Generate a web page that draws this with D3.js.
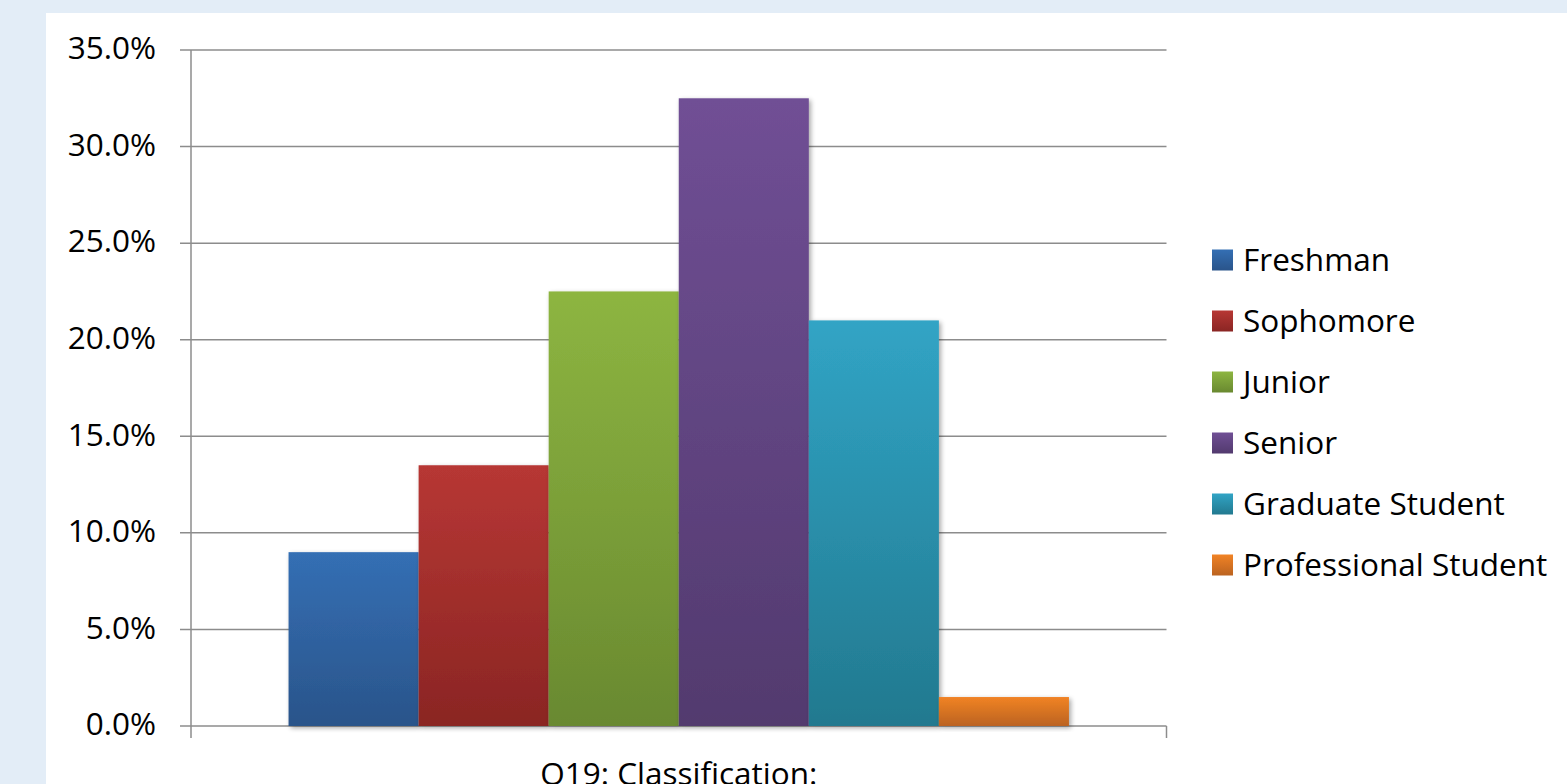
<!DOCTYPE html>
<html><head><meta charset="utf-8">
<script src="https://cdn.jsdelivr.net/npm/d3@7"></script>
<style>html,body{margin:0;padding:0;background:#e3edf7;overflow:hidden}</style>
</head><body>
<svg id="c" width="1567" height="784"></svg>
<script>
const categories = ["Freshman","Sophomore","Junior","Senior","Graduate Student","Professional Student"];
const values = [9.0, 13.5, 22.5, 32.5, 21.0, 1.5];
const yTicks = [0,5,10,15,20,25,30,35];
const xLabel = "Q19: Classification:";
const colorsTop = ["#346fb4","#b73734","#8db541","#704f95","#31a4c5","#f18325"];
const colorsBot = ["#2a548a","#8a2523","#698930","#523a6e","#22798f","#bb6320"];

const svg = d3.select("#c");
const defs = svg.append("defs");
svg.append("rect").attr("x",0).attr("y",0).attr("width",1567).attr("height",784).attr("fill","#e3edf7");
svg.append("rect").attr("x",46).attr("y",13).attr("width",1567-46).attr("height",784-13).attr("fill","#ffffff");

const f = defs.append("filter").attr("id","sh").attr("x","-20%").attr("y","-20%").attr("width","140%").attr("height","140%");
f.append("feGaussianBlur").attr("in","SourceAlpha").attr("stdDeviation",2.5).attr("result","b");
f.append("feOffset").attr("in","b").attr("dx",1.5).attr("dy",1.5).attr("result","o");
f.append("feComponentTransfer").attr("in","o").attr("result","o2").append("feFuncA").attr("type","linear").attr("slope",0.35);
const m = f.append("feMerge"); m.append("feMergeNode").attr("in","o2"); m.append("feMergeNode").attr("in","SourceGraphic");

categories.forEach((c,i)=>{
  const g = defs.append("linearGradient").attr("id","g"+i).attr("x1",0).attr("y1",0).attr("x2",0).attr("y2",1);
  g.append("stop").attr("offset","0%").attr("stop-color",colorsTop[i]);
  g.append("stop").attr("offset","100%").attr("stop-color",colorsBot[i]);
});

const x0 = 191, x1 = 1166.5, yTop = 50, yBot = 726;
const y = d3.scaleLinear().domain([0,35]).range([yBot,yTop]);
const groupX = d3.scaleBand().domain([xLabel]).range([x0,x1]);
const x = d3.scaleBand().domain(categories).range([x0 + (x1-x0)*0.75/7.5, x1 - (x1-x0)*0.75/7.5]).padding(0);

const font = "'Open Sans', 'Liberation Sans', sans-serif";
const fs = 31.5;
// gridlines
svg.append("g").selectAll("line").data(yTicks).join("line")
  .attr("x1",180).attr("x2",x1).attr("y1",d=>y(d)).attr("y2",d=>y(d))
  .attr("stroke","#8c8c8c").attr("stroke-width",1.5);
// axis lines
svg.append("line").attr("x1",x0).attr("x2",x0).attr("y1",yTop).attr("y2",738).attr("stroke","#8c8c8c").attr("stroke-width",1.5);
svg.append("line").attr("x1",x1).attr("x2",x1).attr("y1",yBot).attr("y2",738).attr("stroke","#8c8c8c").attr("stroke-width",1.5);
// y labels
svg.append("g").selectAll("text").data(yTicks).join("text")
  .attr("x",156).attr("y",d=>y(d)-2).attr("dy","0.36em").attr("text-anchor","end")
  .attr("font-family",font).attr("font-size",fs).attr("fill","#000")
  .text(d=>d3.format(".1f")(d)+"%");
// bars
svg.append("g").selectAll("rect").data(values).join("rect")
  .attr("x",(d,i)=>x(categories[i])).attr("width",x.bandwidth())
  .attr("y",d=>y(d)).attr("height",d=>yBot-y(d))
  .attr("fill",(d,i)=>"url(#g"+i+")").attr("filter","url(#sh)");
// x label
svg.append("text").attr("x",groupX(xLabel)+groupX.bandwidth()/2).attr("y",785).attr("text-anchor","middle")
  .attr("font-family",font).attr("font-size",fs).attr("fill","#000").text(xLabel);
// legend
const lg = svg.append("g").selectAll("g").data(categories).join("g")
  .attr("transform",(d,i)=>`translate(1212,${260 + i*61})`);
lg.append("rect").attr("x",0).attr("y",-10.5).attr("width",21).attr("height",21).attr("fill",(d,i)=>"url(#g"+i+")");
lg.append("text").attr("x",31).attr("y",0).attr("dy","0.36em").attr("font-family",font).attr("font-size",fs).attr("fill","#000").text(d=>d);
</script>
</body></html>
